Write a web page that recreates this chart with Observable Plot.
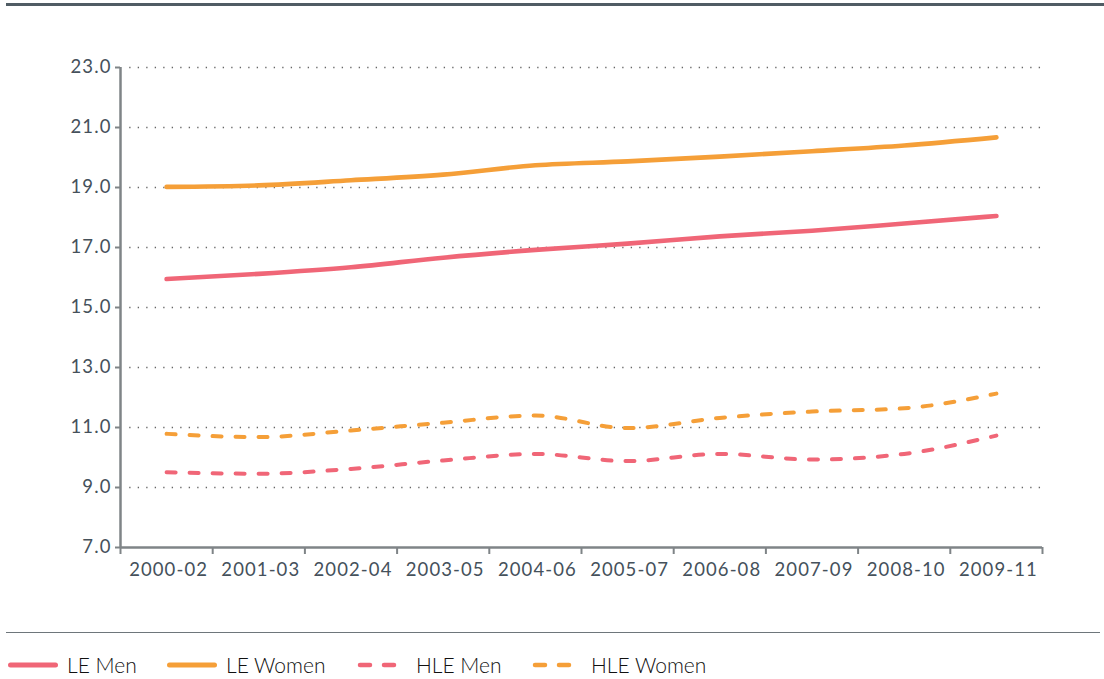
<!DOCTYPE html>
<html>
<head>
<meta charset="utf-8">
<script src="https://cdn.jsdelivr.net/npm/d3@7"></script>
<script src="https://cdn.jsdelivr.net/npm/@observablehq/plot@0.6"></script>
<style>
  html, body { margin: 0; padding: 0; background: #fff; }
  body { width: 1104px; height: 679px; position: relative; overflow: hidden; font-family: Lato, "Open Sans", sans-serif; }
  #toprule { position: absolute; left: 6px; right: 0; top: 3px; height: 3px; background: #505c64; }
  #chart { position: absolute; left: 0; top: 0; }
  #sep { position: absolute; left: 6px; right: 4px; top: 632px; height: 0; border-top: 1.5px solid #6e767b; }
  #legend { position: absolute; left: 0; top: 650px; width: 1104px; height: 28px; font-size: 21px; font-weight: 300; color: #111; }
  #legend .item { position: absolute; top: 0; height: 28px; display: flex; align-items: center; }
  #legend svg { display: block; }
</style>
</head>
<body>
<div id="toprule"></div>
<div id="chart"></div>
<div id="sep"></div>
<div id="legend"></div>
<script>
const periods = ["2000-02","2001-03","2002-04","2003-05","2004-06","2005-07","2006-08","2007-09","2008-10","2009-11"];
const leMen     = [15.95, 16.12, 16.34, 16.66, 16.92, 17.13, 17.37, 17.56, 17.80, 18.05];
const leWomen   = [19.02, 19.07, 19.24, 19.43, 19.74, 19.87, 20.03, 20.21, 20.40, 20.67];
const hleMen    = [9.51, 9.46, 9.62, 9.90, 10.12, 9.88, 10.12, 9.93, 10.12, 10.73];
const hleWomen  = [10.79, 10.68, 10.90, 11.16, 11.40, 10.98, 11.32, 11.53, 11.64, 12.13];
const yTicks = [7, 9, 11, 13, 15, 17, 19, 21, 23];

const red = "#f06677";
const orange = "#f59f38";

const seriesDefs = [
  {name: "LE Men", values: leMen, color: red, dash: null, left: 8},
  {name: "LE Women", values: leWomen, color: orange, dash: null, left: 167},
  {name: "HLE Men", values: hleMen, color: red, dash: "9,14", left: 357},
  {name: "HLE Women", values: hleWomen, color: orange, dash: "9,14", left: 532}
];

const rows = s => s.values.map((v, i) => ({i: i + 0.5, value: v, period: periods[i]}));

const axisColor = "#7f8487";
const textColor = "#45515b";

const marks = [
  Plot.gridY(yTicks.filter(t => t !== 7), {stroke: "#555", strokeOpacity: 0.9, strokeWidth: 1.3, strokeDasharray: "1.3,7.2", x1: 0.1, x2: 10}),
  Plot.axisY(yTicks, {label: null, tickFormat: d3.format(".1f"), tickSize: 5, tickPadding: 4, fontSize: 18.5, color: textColor, stroke: axisColor, strokeWidth: 2}),
  Plot.axisX(d3.range(11), {label: null, tickFormat: () => "", tickSize: 7, stroke: axisColor, strokeWidth: 2}),
  Plot.axisX(d3.range(10).map(i => i + 0.5), {label: null, tickFormat: v => periods[Math.floor(v)], tickSize: 0, tickPadding: 15, fontSize: 18.5, dx: 2, color: textColor}),
  Plot.ruleX([0], {stroke: axisColor, strokeWidth: 2.5}),
  Plot.ruleY([7], {stroke: axisColor, strokeWidth: 2.5}),
  ...seriesDefs.map(s => Plot.line(rows(s), {
    x: "i", y: "value", stroke: s.color,
    strokeWidth: s.dash ? 4 : 4.6,
    strokeDasharray: s.dash || undefined,
    strokeLinecap: "round",
    curve: "monotone-x"
  }))
];

const chart = Plot.plot({
  width: 1104,
  height: 600,
  marginTop: 67,
  marginBottom: 53,
  marginLeft: 120,
  marginRight: 62,
  style: {fontFamily: "Lato, 'Open Sans', sans-serif", background: "transparent", letterSpacing: "1.1px"},
  x: {type: "linear", domain: [0, 10], axis: null},
  y: {domain: [7, 23], axis: null},
  marks
});
document.getElementById("chart").appendChild(chart);

const legend = document.getElementById("legend");
seriesDefs.forEach(s => {
  const item = document.createElement("div");
  item.className = "item";
  item.style.left = s.left + "px";
  let swatch, gap;
  if (s.dash) {
    swatch = `<svg width="40" height="12"><line x1="3" x2="13" y1="7" y2="7" stroke="${s.color}" stroke-width="4.5" stroke-linecap="round"/><line x1="27" x2="37" y1="7" y2="7" stroke="${s.color}" stroke-width="4.5" stroke-linecap="round"/></svg>`;
    gap = 19;
  } else {
    swatch = `<svg width="50" height="12"><line x1="2.5" x2="47.5" y1="7" y2="7" stroke="${s.color}" stroke-width="5" stroke-linecap="round"/></svg>`;
    gap = 9;
  }
  item.innerHTML = swatch + `<span style="margin-left:${gap}px">${s.name}</span>`;
  legend.appendChild(item);
});
</script>
</body>
</html>
